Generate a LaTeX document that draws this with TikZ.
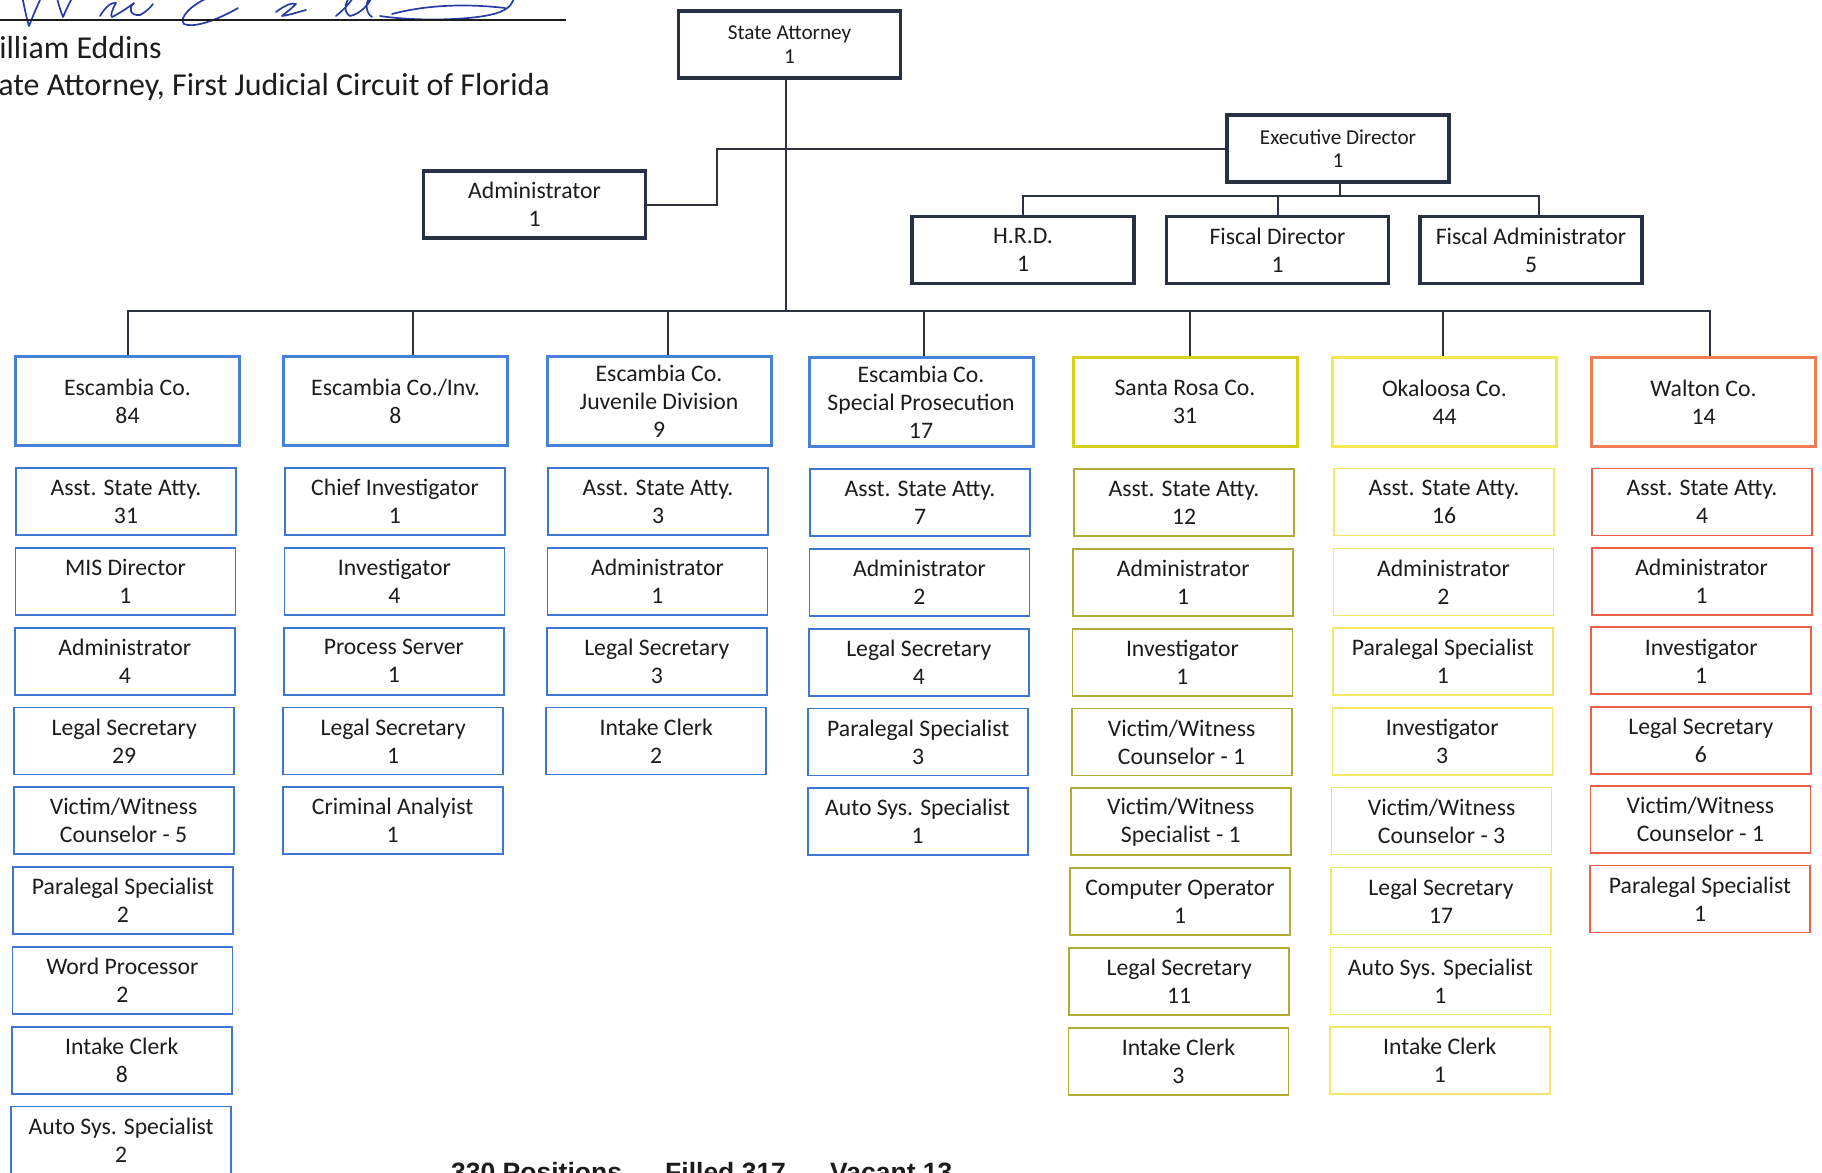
\documentclass[tikz,border=0pt]{standalone}
\usepackage{fontspec}
\setmainfont{Carlito}
\newfontfamily\totalsfont{Liberation Sans}

\definecolor{ink}{RGB}{28,28,30}
\definecolor{topc}{RGB}{40,48,68}
\definecolor{linec}{RGB}{44,50,62}
\definecolor{sigc}{RGB}{40,60,165}
\definecolor{bluehd}{RGB}{72,128,215}
\definecolor{bluesb}{RGB}{62,118,208}
\definecolor{srhd}{RGB}{214,208,22}
\definecolor{srsb}{RGB}{176,172,52}
\definecolor{okhd}{RGB}{246,232,80}
\definecolor{oksb}{RGB}{244,230,104}
\definecolor{wahd}{RGB}{240,124,84}
\definecolor{wasb}{RGB}{236,96,72}

\begin{document}
\begin{tikzpicture}[x=1pt,y=-1pt,
  every node/.style={text=ink, inner sep=0pt},
  basebox/.style={draw, rectangle, align=center, font=\fontsize{23.7}{28}\selectfont},
  topbox/.style={basebox, draw=topc, line width=3.8pt, minimum width=222pt, minimum height=67pt},
  smalltop/.style={font=\fontsize{21.2}{23.5}\selectfont},
  hdr/.style={basebox, draw=#1, line width=3pt, minimum width=224pt, minimum height=89pt},
  sub/.style={basebox, draw=#1, line width=1.8pt, minimum width=220pt, minimum height=67pt},
  link/.style={draw=linec, line width=2pt},
  sig/.style={draw=sigc, line width=1.7pt, line cap=round, line join=round},
  signer/.style={anchor=base east, font=\fontsize{31.9}{36}\selectfont},
  totals/.style={anchor=base west, font=\totalsfont\bfseries\fontsize{26.5}{30}\selectfont}
]
\fill[white] (0,0) rectangle (1822,1172);
\useasboundingbox (0,0) rectangle (1822,1172);

% ---- signature block ----
\draw[sig] (22,-4) .. controls (25,10) and (27,20) .. (29,26) .. controls (33,16) and (37,6) .. (41,-2);
\draw[sig] (57,-2) .. controls (59,6) and (61,12) .. (63,17) .. controls (66,10) and (69,4) .. (72,-2);
\draw[sig] (100,16) .. controls (106,6) and (112,2) .. (116,3) .. controls (112,10) and (110,16) .. (112,17)
  .. controls (122,12) and (130,6) .. (134,3) .. controls (128,8) and (130,16) .. (140,15) .. controls (146,12) and (150,8) .. (153,4);
\draw[sig] (210,-3) .. controls (192,4) and (178,18) .. (184,24) .. controls (192,28) and (214,22) .. (238,8);
\draw[sig] (276,12) .. controls (284,6) and (292,2) .. (296,4) .. controls (290,10) and (284,14) .. (282,16)
  .. controls (290,15) and (298,12) .. (306,10);
\draw[sig] (336,16) .. controls (346,8) and (356,-4) .. (352,-4) .. controls (346,-2) and (342,12) .. (350,16)
  .. controls (360,14) and (370,4) .. (372,-4) .. controls (366,-2) and (364,12) .. (372,17);
\draw[sig] (380,16) .. controls (420,22) and (480,20) .. (500,12) .. controls (510,8) and (514,2) .. (514,-4);
\draw[sig] (392,14) .. controls (430,4) and (470,4) .. (505,8);
\draw[line width=2pt, draw=ink] (-5,20) -- (566,20);
\node[signer] (signame) at (162,58.5) {William Eddins};
\node[signer] (sigtitle) at (550,95.5) {State Attorney, First Judicial Circuit of Florida};

% ---- leadership ----
\node[topbox, smalltop] (sa) at (789.5,44.5) {State Attorney\\1};
\node[topbox, smalltop] (ed) at (1338,148.5) {Executive Director\\1};
\node[topbox] (adm) at (534.5,204.5) {Administrator\\1};
\node[topbox] (hrd) at (1023,250) {H.R.D.\\1};
\node[topbox] (fdir) at (1277.5,250) {Fiscal Director\\1};
\node[topbox] (fadm) at (1531,250) {Fiscal Administrator\\5};

\coordinate (bus) at (786,311);
\coordinate (exj) at (717,148.5);
\coordinate (fbus) at (1340,196);

\draw[link] (bus |- sa.south) -- (bus);
\draw[link] (ed.west) -- (ed.west -| exj) |- (adm.east);
\draw[link] (fbus |- ed.south) -- (fbus);
\draw[link] (hrd.north) |- (fbus) -| ([xshift=8pt]fadm.north);
\draw[link] (fdir.north) -- (fdir.north |- fbus);

% ---- county headers ----
\node[hdr=bluehd] (h1) at (127.5,401) {Escambia Co.\\84};
\node[hdr=bluehd] (h2) at (395.5,401) {Escambia Co./Inv.\\8};
\node[hdr=bluehd] (h3) at (659,401) {Escambia Co.\\Juvenile Division\\9};
\node[hdr=bluehd] (h4) at (921,402) {Escambia Co.\\Special Prosecution\\17};
\node[hdr=srhd] (h5) at (1185,402) {Santa Rosa Co.\\31};
\node[hdr=okhd, line width=2.2pt] (h6) at (1444.5,402) {Okaloosa Co.\\44};
\node[hdr=wahd] (h7) at (1703.5,402) {Walton Co.\\14};

\draw[link] (h1.north) |- (bus) -| ([xshift=6pt]h7.north);
\draw[link] ([xshift=17pt]h2.north) -- ([xshift=17pt]h2.north |- bus);
\draw[link] ([xshift=9pt]h3.north) -- ([xshift=9pt]h3.north |- bus);
\draw[link] ([xshift=3pt]h4.north) -- ([xshift=3pt]h4.north |- bus);
\draw[link] ([xshift=5pt]h5.north) -- ([xshift=5pt]h5.north |- bus);
\draw[link] ([xshift=-2pt]h6.north) -- ([xshift=-2pt]h6.north |- bus);

% ---- positions under each county ----
\foreach \t [count=\i] in {{Asst. State Atty.\\31},{MIS Director\\1},{Administrator\\4},
  {Legal Secretary\\29},{Victim/Witness\\Counselor - 5},{Paralegal Specialist\\2},
  {Word Processor\\2},{Intake Clerk\\8},{Auto Sys. Specialist\\2}}
  \node[sub=bluesb] (c1r\i) at ({126-0.6*(\i-1)},{501.5+79.8*(\i-1)}) {\t};

\foreach \t [count=\i] in {{Chief Investigator\\1},{Investigator\\4},{Process Server\\1},
  {Legal Secretary\\1},{Criminal Analyist\\1}}
  \node[sub=bluesb] (c2r\i) at ({395-0.6*(\i-1)},{501.5+79.8*(\i-1)}) {\t};

\foreach \t [count=\i] in {{Asst. State Atty.\\3},{Administrator\\1},{Legal Secretary\\3},
  {Intake Clerk\\2}}
  \node[sub=bluesb] (c3r\i) at ({658-0.6*(\i-1)},{501.5+79.8*(\i-1)}) {\t};

\foreach \t [count=\i] in {{Asst. State Atty.\\7},{Administrator\\2},{Legal Secretary\\4},
  {Paralegal Specialist\\3},{Auto Sys. Specialist\\1}}
  \node[sub=bluesb] (c4r\i) at ({920-0.6*(\i-1)},{502.5+79.8*(\i-1)}) {\t};

\foreach \t [count=\i] in {{Asst. State Atty.\\12},{Administrator\\1},{Investigator\\1},
  {Victim/Witness\\Counselor - 1},{Victim/Witness\\Specialist - 1},{Computer Operator\\1},
  {Legal Secretary\\11},{Intake Clerk\\3}}
  \node[sub=srsb] (c5r\i) at ({1184-0.8*(\i-1)},{502.5+79.8*(\i-1)}) {\t};

\foreach \t [count=\i] in {{Asst. State Atty.\\16},{Administrator\\2},{Paralegal Specialist\\1},
  {Investigator\\3},{Victim/Witness\\Counselor - 3},{Legal Secretary\\17},
  {Auto Sys. Specialist\\1},{Intake Clerk\\1}}
  \node[sub=oksb, line width=1.4pt] (c6r\i) at ({1444-0.6*(\i-1)},{502+79.8*(\i-1)}) {\t};

\foreach \t [count=\i] in {{Asst. State Atty.\\4},{Administrator\\1},{Investigator\\1},
  {Legal Secretary\\6},{Victim/Witness\\Counselor - 1},{Paralegal Specialist\\1}}
  \node[sub=wasb] (c7r\i) at ({1702-0.4*(\i-1)},{502+79.4*(\i-1)}) {\t};

% ---- staffing totals ----
\node[totals] (tpos) at (451,1181) {330 Positions};
\node[totals] (tfil) at (665,1181) {Filled 317};
\node[totals] (tvac) at (830,1181) {Vacant 13};
\end{tikzpicture}
\end{document}
